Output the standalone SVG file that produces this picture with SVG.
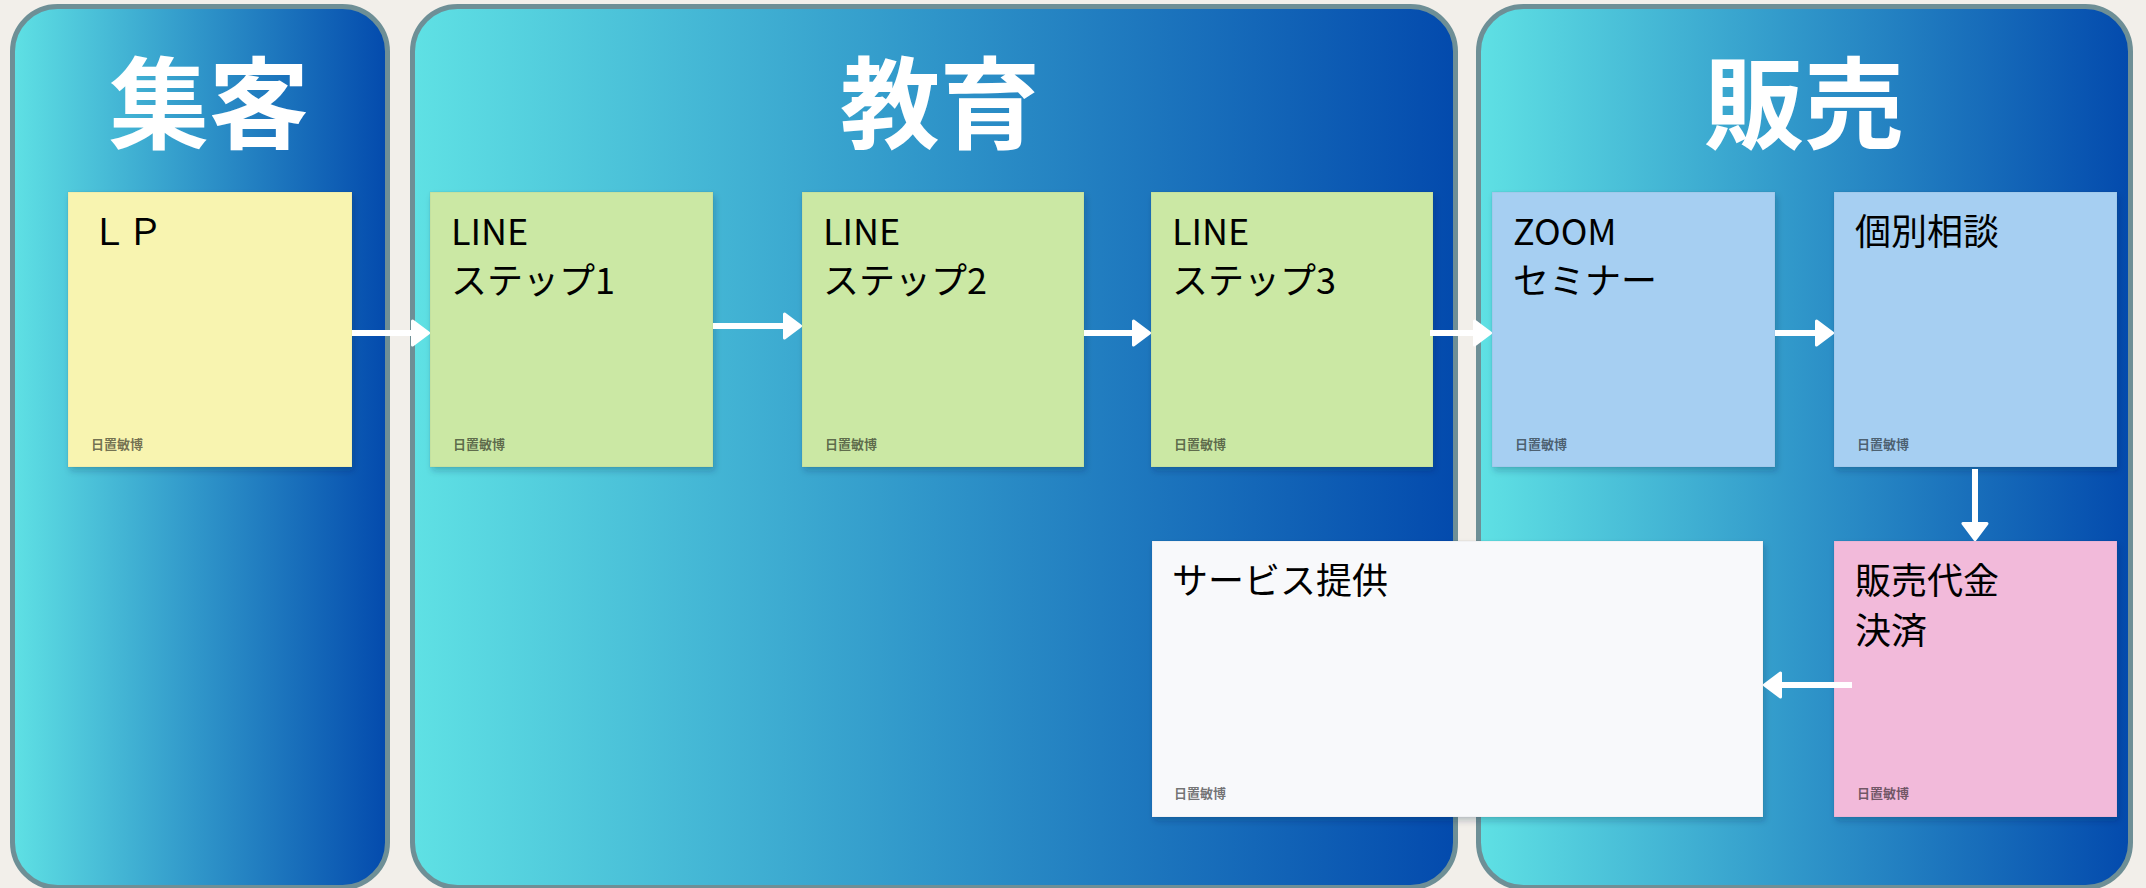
<svg xmlns="http://www.w3.org/2000/svg" width="2146" height="888" viewBox="0 0 2146 888">
<defs>
  <linearGradient id="panelGrad" x1="0" y1="0" x2="1" y2="0">
    <stop offset="0" stop-color="#5fe1e4"/>
    <stop offset="0.5" stop-color="#2f95c9"/>
    <stop offset="1" stop-color="#034aad"/>
  </linearGradient>
  <filter id="noteShadow" x="-5%" y="-5%" width="110%" height="115%">
    <feDropShadow dx="2" dy="4" stdDeviation="3" flood-color="#00243f" flood-opacity="0.22"/>
  </filter>
  <marker id="arrowHead" viewBox="0 0 20 28" markerWidth="20" markerHeight="28" refX="3" refY="14" orient="auto" markerUnits="userSpaceOnUse">
    <path d="M2,2 L18,14 L2,26 Z" fill="#ffffff" stroke="#ffffff" stroke-width="3" stroke-linejoin="round"/>
  </marker>
  <style>
    .panel { fill: url(#panelGrad); stroke: #6e8f96; stroke-width: 5; }
    .title { font-family: "Noto Sans CJK JP", "Noto Sans", sans-serif; font-size: 100px; font-weight: 700; fill: #ffffff; text-anchor: middle; }
    .note { filter: url(#noteShadow); stroke: rgba(0,0,0,0.06); stroke-width: 1; }
    .yellow { fill: #f8f4b0; }
    .green { fill: #cbe8a4; }
    .blue { fill: #a6cff2; }
    .pink { fill: #f2bada; }
    .white { fill: #f8f9fb; }
    .label { font-family: "Noto Sans CJK JP", "Noto Sans", sans-serif; font-size: 36px; fill: #000000; }
    .author { font-family: "Noto Sans CJK JP", "Noto Sans", sans-serif; font-size: 13px; font-weight: 700; fill: #000000; fill-opacity: 0.55; }
    .conn { stroke: #ffffff; stroke-width: 6; fill: none; marker-end: url(#arrowHead); }
  </style>
</defs>

<rect x="0" y="0" width="2146" height="888" fill="#f2efea"/>

<g id="panel-shukyaku">
  <rect class="panel" x="12.5" y="6.5" width="375" height="881" rx="45" ry="45"/>
  <text class="title" x="209" y="141">集客</text>
</g>
<g id="panel-kyoiku">
  <rect class="panel" x="412.5" y="6.5" width="1043" height="881" rx="45" ry="45"/>
  <text class="title" x="940" y="141">教育</text>
</g>
<g id="panel-hanbai">
  <rect class="panel" x="1478.5" y="6.5" width="652" height="881" rx="45" ry="45"/>
  <text class="title" x="1804" y="141">販売</text>
</g>

<g id="node-lp">
  <rect class="note yellow" x="68" y="192" width="284" height="275"/>
  <text class="label" x="91" y="245">ＬＰ</text>
  <text class="author" x="91" y="449">日置敏博</text>
</g>
<g id="node-step1">
  <rect class="note green" x="430" y="192" width="283" height="275"/>
  <text class="label" x="451" y="245">LINE</text>
  <text class="label" x="451" y="294">ステップ1</text>
  <text class="author" x="453" y="449">日置敏博</text>
</g>
<g id="node-step2">
  <rect class="note green" x="802" y="192" width="282" height="275"/>
  <text class="label" x="823" y="245">LINE</text>
  <text class="label" x="823" y="294">ステップ2</text>
  <text class="author" x="825" y="449">日置敏博</text>
</g>
<g id="node-step3">
  <rect class="note green" x="1151" y="192" width="282" height="275"/>
  <text class="label" x="1172" y="245">LINE</text>
  <text class="label" x="1172" y="294">ステップ3</text>
  <text class="author" x="1174" y="449">日置敏博</text>
</g>
<g id="node-zoom">
  <rect class="note blue" x="1492" y="192" width="283" height="275"/>
  <text class="label" x="1513" y="245">ZOOM</text>
  <text class="label" x="1513" y="294">セミナー</text>
  <text class="author" x="1515" y="449">日置敏博</text>
</g>
<g id="node-kobetsu">
  <rect class="note blue" x="1834" y="192" width="283" height="275"/>
  <text class="label" x="1855" y="245">個別相談</text>
  <text class="author" x="1857" y="449">日置敏博</text>
</g>
<g id="node-kessai">
  <rect class="note pink" x="1834" y="541" width="283" height="276"/>
  <text class="label" x="1855" y="594">販売代金</text>
  <text class="label" x="1855" y="644">決済</text>
  <text class="author" x="1857" y="798">日置敏博</text>
</g>
<g id="node-service">
  <rect class="note white" x="1152" y="541" width="611" height="276"/>
  <text class="label" x="1172" y="594">サービス提供</text>
  <text class="author" x="1174" y="798">日置敏博</text>
</g>

<g id="connectors">
  <line class="conn" x1="352" y1="333" x2="413.5" y2="333"/>
  <line class="conn" x1="713" y1="326" x2="785.5" y2="326"/>
  <line class="conn" x1="1084" y1="333" x2="1134.5" y2="333"/>
  <line class="conn" x1="1430" y1="333" x2="1475.5" y2="333"/>
  <line class="conn" x1="1775" y1="333" x2="1817.5" y2="333"/>
  <line class="conn" x1="1975" y1="469" x2="1975" y2="524.5"/>
  <line class="conn" x1="1852" y1="685" x2="1779.5" y2="685"/>
</g>
</svg>
